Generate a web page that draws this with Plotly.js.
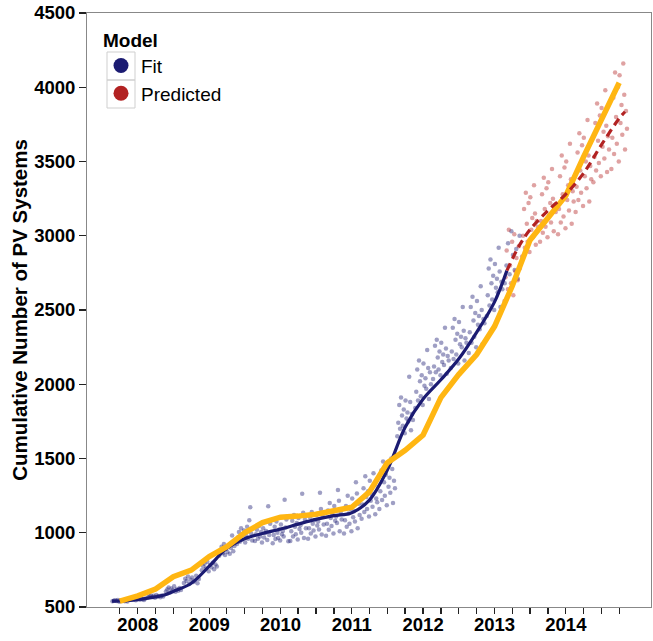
<!DOCTYPE html>
<html>
<head>
<meta charset="utf-8">
<script src="https://cdn.plot.ly/plotly-3.0.1.min.js"></script>
<style>html,body{margin:0;padding:0;background:#fff;}#chart{width:653px;height:641px;}</style>
</head>
<body>
<div id="chart"></div>
<script>
// ---- Observed quarterly cumulative number of PV systems (yellow line) ----
const actualDates = ['2007-10-01','2008-01-01','2008-04-01','2008-07-01','2008-10-01',
  '2009-01-01','2009-04-01','2009-07-01','2009-10-01','2010-01-01','2010-04-01','2010-07-01','2010-10-01',
  '2011-01-01','2011-04-01','2011-07-01','2011-10-01','2012-01-01','2012-04-01','2012-07-01','2012-10-01',
  '2013-01-01','2013-04-01','2013-07-01','2013-10-01','2014-01-01','2014-04-01','2014-07-01','2014-10-01'];
const actualValues = [540,575,621,704,748,839,906,1000,1068,1105,1112,1125,1148,
  1172,1275,1470,1555,1658,1910,2065,2200,2390,2660,2970,3120,3270,3530,3770,4030];

// ---- Fitted model curve (navy) ----
const fitLineDates = ['2007-08-22','2007-11-01','2008-01-15','2008-04-01','2008-05-20','2008-07-01','2008-10-01',
  '2009-01-01','2009-04-01','2009-07-01','2009-10-01','2010-01-01','2010-04-01','2010-07-01','2010-10-01',
  '2011-01-01','2011-04-01','2011-07-01','2011-10-01','2012-01-01','2012-04-01','2012-07-01','2012-10-01',
  '2013-01-01','2013-03-05'];
const fitLineValues = [540,542,552,568,582,605,660,775,895,960,995,1025,1058,1090,1115,
  1135,1220,1420,1710,1900,2030,2170,2350,2555,2765];

// ---- Predicted model curve (red dashed) ----
const predLineDates = ['2013-03-05','2013-05-08','2013-07-01','2013-10-01','2014-01-01','2014-04-01','2014-07-01','2014-10-01','2014-10-31'];
const predLineValues = [2765,2935,3040,3170,3280,3420,3610,3790,3835];

// ---- Scatter clouds, grouped by quarter ----
const fitQuarters = ['2007-10-01','2008-01-01','2008-04-01','2008-07-01','2008-10-01',
  '2009-01-01','2009-04-01','2009-07-01','2009-10-01','2010-01-01','2010-04-01','2010-07-01','2010-10-01',
  '2011-01-01','2011-04-01','2011-07-01','2011-10-01','2012-01-01','2012-04-01','2012-07-01','2012-10-01',
  '2013-01-01','2013-04-01'];
const fitPoints = [
  [538,542,545,540,547,536,543,541,546,539,544,537],
  [548,555,551,558,546,553,560,549,556,552,547,557],
  [565,572,578,568,575,562,580,570,574,566,577,571],
  [605,618,632,598,625,612,640,602,620,609,628,615],
  [662,690,675,705,655,684,698,668,679,710,660,688],
  [748,775,792,760,805,740,782,768,798,755,786,772],
  [845,880,905,862,925,850,893,870,915,858,898,982,875,910],
  [925,968,1005,940,1030,955,990,1015,935,978,1040,960,1085,1172,995,948],
  [945,990,1020,960,1045,975,1005,935,1030,968,998,1012,952,1178,985,1060],
  [930,985,1040,958,1075,1000,965,1022,948,1055,990,1012,975,1222,1035,1090,1110,942],
  [945,1010,1080,975,1120,1040,990,1065,955,1100,1025,1050,1000,1262,1135,965,1088,1030],
  [960,1030,1105,995,1140,1060,1015,1085,975,1120,1048,1075,1022,1270,1160,988,1110,1055],
  [980,1060,1150,1020,1200,1100,1045,1125,995,1180,1080,1110,1065,1288,1215,1010,1140,1090],
  [995,1085,1180,1040,1250,1130,1060,1160,1010,1230,1105,1145,1075,1340,1265,1030,1195,1120],
  [1095,1190,1300,1140,1380,1240,1160,1280,1110,1350,1215,1260,1175,1400,1320,1125,1230,1205],
  [1160,1280,1420,1220,1480,1340,1250,1390,1185,1460,1310,1370,1270,1500,1430,1200,1350,1300],
  [1650,1740,1860,1700,1910,1790,1720,1830,1670,1890,1770,1810,1750,2050,1880,1690,1800,1760],
  [1840,1950,2100,1890,2160,2020,1920,2060,1860,2140,1990,2040,1970,2230,2110,1900,2080,2000],
  [2035,2120,2260,2080,2300,2180,2100,2220,2060,2280,2150,2200,2130,2380,2240,2070,2190,2160],
  [2110,2220,2380,2170,2440,2300,2200,2340,2140,2420,2270,2320,2250,2520,2360,2160,2310,2280],
  [2210,2350,2520,2280,2590,2430,2320,2480,2250,2560,2400,2460,2370,2660,2500,2270,2440,2410],
  [2460,2600,2780,2530,2840,2680,2570,2730,2500,2810,2650,2710,2620,2920,2760,2520,2690,2640],
  [2680,2800,2950,2740,3030,2870,2770,2910,2710,3000]
];
const predQuarters = ['2013-04-01','2013-07-01','2013-10-01','2014-01-01','2014-04-01','2014-07-01','2014-10-01'];
const predPoints = [
  [2560,2720,2900,2640,3040,2800,2680,2960,2600,3010,2760,2850,2700,2930,2780],
  [2860,3000,3180,2920,3290,3080,2960,3220,2890,3260,3040,3120,2990,3340,3150,2940,3100,3060],
  [2960,3100,3280,3020,3390,3180,3060,3320,2990,3360,3140,3220,3090,3450,3250,3030,3200,3160],
  [3010,3180,3400,3090,3540,3280,3130,3460,3050,3500,3240,3340,3170,3620,3380,3080,3300,3230],
  [3160,3330,3560,3240,3690,3440,3290,3610,3200,3660,3400,3500,3320,3780,3540,3230,3470,3380],
  [3360,3530,3760,3440,3890,3640,3490,3810,3400,3860,3600,3700,3520,3980,3740,3430,3670,3580],
  [3450,3660,3930,3550,4100,3800,3620,4000,3500,4080,3760,3880,3680,4160,3950,3580,3840,3720]
];

// ---- Axis ticks ----
const tickDates = ['2007-10-01','2008-01-01','2008-04-01','2008-07-01','2008-10-01','2009-01-01','2009-04-01','2009-07-01','2009-10-01',
  '2010-01-01','2010-04-01','2010-07-01','2010-10-01','2011-01-01','2011-04-01','2011-07-01','2011-10-01',
  '2012-01-01','2012-04-01','2012-07-01','2012-10-01','2013-01-01','2013-04-01','2013-07-01','2013-10-01',
  '2014-01-01','2014-04-01','2014-07-01','2014-10-01'];
const tickLabels = tickDates.map(d => d.slice(5) === '01-01' ? d.slice(0,4) : '');

// spread each quarter's observations across the days around the quarter date
function flatten(quarters, groups, halfSpan) {
  const xs = [], ys = [];
  quarters.forEach((q, qi) => {
    const base = Date.parse(q + 'T00:00:00Z');
    const vals = groups[qi];
    vals.forEach((v, i) => {
      const off = -halfSpan + 2 * halfSpan * (i + 0.5) / vals.length;
      xs.push(new Date(base + Math.round(off) * 86400000).toISOString().slice(0, 10));
      ys.push(v);
    });
  });
  return {xs, ys};
}
const fitCloud = flatten(fitQuarters, fitPoints, 42);
const predCloud = flatten(predQuarters, predPoints, 42);

const NAVY = '#1b1b72';
const RED = '#b22222';
const GOLD = '#ffb612';
const FONT = 'Liberation Sans, Arial, Helvetica, sans-serif';

const traces = [
  {x: [null], y: [null], type: 'scatter', mode: 'markers', name: 'Fit', marker: {color: NAVY, size: 15}, showlegend: true},
  {x: [null], y: [null], type: 'scatter', mode: 'markers', name: 'Predicted', marker: {color: RED, size: 15}, showlegend: true},
  {x: fitCloud.xs, y: fitCloud.ys, type: 'scatter', mode: 'markers', showlegend: false,
   marker: {color: NAVY, size: 4.5, opacity: 0.42}, hoverinfo: 'skip'},
  {x: predCloud.xs, y: predCloud.ys, type: 'scatter', mode: 'markers', showlegend: false,
   marker: {color: RED, size: 4.5, opacity: 0.42}, hoverinfo: 'skip'},
  {x: fitLineDates, y: fitLineValues, type: 'scatter', mode: 'lines', showlegend: false,
   line: {color: NAVY, width: 3.2, shape: 'spline', smoothing: 1}},
  {x: actualDates, y: actualValues, type: 'scatter', mode: 'lines', showlegend: false,
   line: {color: GOLD, width: 5.5}},
  {x: predLineDates, y: predLineValues, type: 'scatter', mode: 'lines', showlegend: false,
   line: {color: RED, width: 3.2, dash: '8px,5px', shape: 'spline', smoothing: 1}}
];

// legend key boxes (pixel positions converted to paper coords)
const L = 87, W = 564, T = 13, H = 594;
const px = v => (v - L) / W;
const py = v => (T + H - v) / H;
const shapes = [
  {type: 'rect', xref: 'paper', yref: 'paper', x0: px(107), x1: px(135), y0: py(80), y1: py(52), line: {color: '#cfcfcf', width: 1}},
  {type: 'rect', xref: 'paper', yref: 'paper', x0: px(107), x1: px(135), y0: py(108), y1: py(80), line: {color: '#cfcfcf', width: 1}}
];

const layout = {
  width: 653, height: 641,
  margin: {l: L, r: 653 - L - W, t: T, b: 641 - T - H},
  paper_bgcolor: '#ffffff', plot_bgcolor: '#ffffff',
  font: {family: FONT, color: '#000'},
  showlegend: true,
  legend: {
    x: px(101), y: py(22), xanchor: 'left', yanchor: 'top',
    bgcolor: 'rgba(0,0,0,0)', borderwidth: 0,
    font: {family: FONT, size: 19, color: '#000'},
    title: {text: 'Model', font: {family: FONT, size: 19, weight: 'bold', color: '#000'}},
    tracegroupgap: 0
  },
  xaxis: {
    type: 'date',
    range: ['2007-04-16', '2015-03-13'],
    tickmode: 'array', tickvals: tickDates, ticktext: tickLabels,
    ticks: 'outside', ticklen: 6, tickwidth: 1.3, tickcolor: '#222',
    ticklabelstandoff: -5,
    tickfont: {family: FONT, size: 18.5, weight: 'bold', color: '#000'},
    showline: true, linecolor: '#888', linewidth: 1, mirror: true,
    showgrid: false, zeroline: false
  },
  yaxis: {
    range: [500, 4500], dtick: 500, tick0: 500,
    ticks: 'outside', ticklen: 7, tickwidth: 1.3, tickcolor: '#222',
    tickfont: {family: FONT, size: 18.5, weight: 'bold', color: '#000'},
    showline: true, linecolor: '#888', linewidth: 1, mirror: true,
    showgrid: false, zeroline: false,
    title: {text: 'Cumulative Number of PV Systems', font: {family: FONT, size: 20.5, weight: 'bold', color: '#000'}, standoff: 0}
  },
  shapes: shapes
};

Plotly.newPlot('chart', traces, layout, {displayModeBar: false, staticPlot: true});
</script>
</body>
</html>
